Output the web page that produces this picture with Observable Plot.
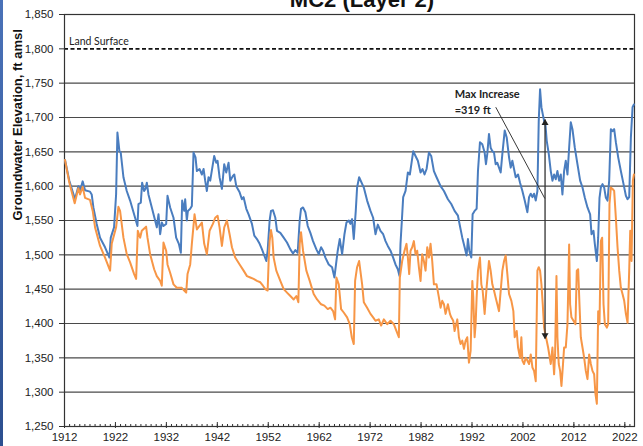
<!DOCTYPE html>
<html><head><meta charset="utf-8">
<script src="https://cdn.jsdelivr.net/npm/d3@7"></script>
<script src="https://cdn.jsdelivr.net/npm/@observablehq/plot@0.6"></script>
<style>
html,body{margin:0;padding:0;background:#fff;}
#wrap{position:relative;width:643px;height:446px;overflow:hidden;background:#fff;}
#chart{position:absolute;left:0;top:0;}
#title{position:absolute;left:0;width:724px;top:-13px;text-align:center;font:bold 22px "Liberation Sans",Arial,sans-serif;color:#111;white-space:nowrap;}
#edge{position:absolute;left:0;top:0;width:3px;height:446px;background:linear-gradient(#4a72b8,#2c4f8f);}
</style></head><body>
<div id="wrap"><div id="chart"></div><div id="title">MC2 (Layer 2)</div><div id="edge"></div></div>
<script>
// ---- tick labels ----
const yTicks = [1250,1300,1350,1400,1450,1500,1550,1600,1650,1700,1750,1800,1850];
const xTicks = [1912,1922,1932,1942,1952,1962,1972,1982,1992,2002,2012,2022];
const xMinor = d3.range(1912, 2024);
const landSurface = 1800;

// ---- blue series ----
const blueYear = [1912.10,1912.95,1914.06,1914.72,1915.05,1915.57,1916.03,1917.01,1917.34,1917.67,1918.32,1918.98,1919.96,1920.82,1921.08,1921.73,1922.13,1922.39,1922.78,1923.04,1923.57,1924.22,1924.88,1925.86,1926.32,1926.52,1926.98,1927.24,1927.63,1927.89,1928.16,1928.48,1929.14,1929.79,1930.12,1930.45,1930.78,1931.10,1931.43,1931.96,1932.22,1932.74,1933.40,1933.92,1934.45,1934.84,1935.10,1935.50,1935.69,1936.02,1936.22,1936.68,1937.00,1937.33,1937.72,1937.99,1938.51,1938.97,1939.30,1939.62,1939.95,1940.28,1940.61,
1941.39,1941.79,1942.05,1942.44,1942.90,1943.36,1943.75,1944.21,1944.54,1945.06,1945.33,1945.72,1946.38,1946.83,1947.16,1947.69,1948.14,1948.80,1949.26,1949.78,1950.31,1950.77,1951.22,1951.62,1951.88,1952.27,1952.54,1952.93,1953.39,1953.72,1954.37,1955.03,1955.68,1956.34,1956.86,1957.32,1957.78,1958.17,1958.43,1958.83,1959.29,1959.75,1960.27,1960.79,1961.45,1961.91,1962.37,1962.76,1963.22,1963.87,1964.53,1964.99,1965.38,1965.64,1966.04,1966.50,1966.96,1967.35,1967.81,1968.13,1968.46,1968.79,1969.18,1969.44,1969.84,
1970.76,1971.41,1972.07,1972.59,1973.05,1973.51,1974.03,1974.56,1975.02,1975.47,1976.00,1976.52,1976.98,1977.44,1977.77,1977.96,1978.23,1978.49,1978.95,1979.41,1979.80,1980.13,1980.46,1980.91,1981.37,1981.90,1982.29,1982.68,1983.08,1983.54,1983.99,1984.52,1985.04,1985.83,1986.49,1987.27,1987.93,1988.58,1989.24,1989.63,1990.09,1990.55,1990.94,1991.20,1991.47,1991.86,1992.12,1992.51,1992.91,1993.17,1993.56,1994.02,1994.48,1994.74,1995.00,1995.33,1995.66,1995.99,1996.32,1996.64,1996.97,1997.30,1997.63,
1997.96,1998.42,1998.81,1999.27,1999.60,1999.92,2000.25,2000.58,2001.04,2001.43,2001.89,2002.35,2002.87,2003.20,2003.53,2003.86,2004.18,2004.51,2004.84,2005.10,2005.36,2005.63,2005.89,2006.15,2006.41,2006.67,2007.07,2007.46,2007.79,2008.12,2008.44,2008.77,2009.10,2009.43,2009.75,2010.08,2010.41,2010.74,2011.07,2011.39,2011.72,2012.18,2012.70,2013.23,2013.69,2014.15,2014.67,2015.19,2015.46,2015.85,2016.11,2016.51,2016.77,2017.03,2017.29,2017.62,2017.95,2018.28,2018.60,2018.93,2019.26,2019.59,2019.91,2020.24,2020.70,2021.22,2021.75,2022.21,2022.54,2022.86,2023.19,2023.52,2023.78];
const blueElev = [1638,1608,1581,1600,1593,1607,1594,1592,1588,1569,1545,1525,1511,1496,1525,1540,1588,1678,1651,1649,1613,1593,1579,1554,1542,1574,1576,1605,1593,1596,1605,1588,1569,1550,1540,1559,1530,1547,1542,1545,1586,1569,1554,1525,1516,1503,1579,1564,1581,1550,1564,1567,1571,1649,1642,1622,1625,1617,1625,1608,1593,1613,1608,
1644,1634,1637,1613,1596,1632,1620,1634,1608,1615,1617,1600,1591,1581,1584,1567,1559,1545,1528,1523,1516,1508,1499,1491,1506,1550,1564,1565,1554,1535,1532,1525,1518,1508,1502,1507,1503,1550,1567,1569,1562,1542,1532,1520,1508,1501,1511,1506,1496,1486,1482,1467,1491,1506,1523,1501,1530,1547,1550,1545,1552,1523,1564,1598,1613,
1598,1579,1564,1554,1530,1544,1535,1530,1520,1513,1506,1496,1486,1479,1469,1516,1550,1584,1593,1620,1617,1634,1651,1644,1637,1620,1625,1617,1625,1649,1644,1622,1613,1600,1593,1581,1574,1564,1557,1542,1525,1511,1499,1523,1506,1496,1559,1564,1567,1622,1664,1661,1649,1632,1647,1676,1656,1651,1649,1632,1634,1627,1620,
1647,1681,1671,1642,1627,1637,1625,1613,1617,1605,1593,1579,1562,1584,1589,1584,1589,1579,1593,1695,1741,1715,1705,1695,1690,1666,1647,1622,1608,1617,1610,1622,1608,1617,1588,1622,1637,1617,1656,1693,1683,1656,1632,1608,1598,1583,1569,1559,1530,1535,1516,1491,1525,1583,1598,1603,1598,1583,1579,1608,1683,1680,1683,1664,1642,1622,1603,1586,1581,1584,1671,1715,1719];

// ---- orange series ----
const orangeYear = [1912.10,1912.95,1914.00,1914.72,1915.05,1915.57,1916.03,1917.01,1917.54,1918.00,1918.98,1919.96,1920.95,1921.27,1922.13,1922.58,1922.91,1923.57,1924.22,1924.88,1925.67,1926.06,1926.39,1926.85,1927.17,1928.02,1928.29,1928.81,1929.60,1930.12,1930.78,1931.10,1931.43,1931.96,1932.22,1932.74,1933.40,1934.05,1935.04,1935.50,1935.89,1936.15,1936.68,1937.00,1937.53,1937.99,1938.97,1939.43,1939.95,1940.48,
1941.13,1941.59,1942.05,1942.44,1942.90,1943.36,1943.88,1944.41,1944.87,1945.52,1946.38,1947.16,1947.82,1948.47,1949.13,1949.78,1950.44,1950.96,1951.42,1951.88,1952.08,1952.27,1952.54,1952.80,1953.06,1953.58,1954.37,1955.03,1955.68,1956.34,1956.99,1957.52,1957.91,1958.17,1958.43,1958.83,1959.48,1960.14,1960.92,1961.58,1962.37,1963.02,1963.68,1964.20,1964.73,1965.12,1965.38,1965.84,1966.30,1966.82,1967.48,1968.00,1968.40,1968.79,1969.05,1969.44,1969.84,
1970.43,1970.76,1971.41,1972.07,1972.59,1973.05,1973.70,1974.16,1974.69,1975.34,1976.00,1976.65,1977.18,1977.64,1977.83,1978.29,1978.75,1979.14,1979.41,1979.67,1979.93,1980.26,1980.59,1980.91,1981.24,1981.57,1981.90,1982.22,1982.55,1982.88,1983.21,1983.54,1983.86,1984.19,1984.52,1985.04,1985.50,1985.83,1986.16,1986.49,1986.81,1987.27,1987.67,1987.93,1988.32,1988.58,1989.11,1989.43,1989.76,1990.09,1990.42,1990.74,1991.07,1991.40,1991.73,1992.06,1992.25,1992.51,1992.71,1992.91,1993.17,1993.56,1993.83,1994.09,1994.48,1994.87,1995.33,1995.66,1995.99,1996.32,1996.64,1996.97,1997.30,
1997.96,1998.29,1998.61,1998.94,1999.27,1999.73,2000.12,2000.38,2000.78,2001.04,2001.43,2001.69,2001.89,2002.22,2002.55,2002.87,2003.20,2003.53,2003.86,2004.18,2004.51,2004.84,2005.10,2005.36,2005.63,2005.89,2006.15,2006.41,2006.67,2006.94,2007.46,2007.79,2008.12,2008.31,2008.58,2008.77,2009.03,2009.30,2009.56,2009.82,2010.08,2010.41,2010.74,2011.07,2011.26,2011.52,2011.92,2012.31,2012.57,2012.84,2013.10,2013.36,2013.69,2014.02,2014.34,2014.67,2015.00,2015.33,2015.65,2015.98,2016.24,2016.51,2016.77,2017.03,2017.29,2017.55,2017.82,2018.08,2018.47,2018.73,2018.99,2019.26,2019.59,2019.91,2020.24,2020.57,2020.90,2021.22,2021.55,2021.88,2022.21,2022.54,2022.86,2023.06,2023.32,2023.58,2023.78];
const orangeElev = [1638,1605,1575,1597,1588,1599,1583,1580,1564,1540,1513,1496,1477,1516,1540,1570,1564,1525,1501,1489,1472,1465,1535,1525,1535,1541,1525,1501,1479,1469,1462,1455,1518,1506,1486,1474,1457,1452,1452,1448,1445,1472,1486,1516,1559,1537,1547,1516,1501,1535,
1545,1554,1557,1540,1513,1540,1550,1530,1511,1496,1486,1477,1469,1467,1465,1462,1460,1455,1450,1448,1491,1520,1536,1525,1496,1477,1462,1450,1445,1440,1435,1440,1431,1516,1533,1506,1477,1462,1443,1435,1428,1426,1421,1423,1418,1406,1467,1457,1421,1416,1409,1399,1380,1370,1462,1482,1491,
1457,1431,1423,1414,1409,1404,1406,1397,1406,1399,1404,1399,1389,1380,1467,1491,1506,1516,1496,1472,1506,1511,1520,1501,1506,1482,1462,1501,1491,1477,1511,1496,1516,1491,1457,1457,1438,1423,1433,1428,1414,1428,1414,1409,1404,1389,1406,1380,1370,1375,1363,1375,1380,1343,1360,1462,1438,1380,1399,1438,1477,1496,1457,1448,1414,1453,1491,1477,1457,1448,1438,1428,1418,
1477,1491,1499,1472,1443,1433,1418,1380,1389,1365,1350,1380,1346,1341,1350,1346,1341,1355,1336,1331,1316,1477,1482,1477,1457,1428,1394,1384,1375,1365,1341,1365,1326,1355,1469,1380,1341,1331,1309,1336,1365,1365,1399,1515,1428,1409,1404,1399,1477,1479,1428,1380,1365,1350,1331,1319,1355,1341,1331,1326,1297,1283,1418,1399,1520,1525,1428,1399,1394,1399,1574,1598,1596,1593,1554,1511,1477,1452,1443,1433,1414,1401,1477,1535,1491,1608,1617];

// ---- annotation ----
const annotationText = ["Max Increase\n=319 ft"];
const annotationAt = [1988.6, 1745];
const arrowYear = 2006.34;
const arrowTop = 1697;
const arrowBottom = 1378;
const leaderFrom = [1996.66, 1715];
const leaderTo = [2006.3, 1582];
const landLabel = ["Land Surface"];
const landLabelAt = [1912.9, 1806];

const blue = blueYear.map((x, i) => ({year: x, elev: blueElev[i]}));
const orange = orangeYear.map((x, i) => ({year: x, elev: orangeElev[i]}));
const grid = yTicks.filter(t => t !== 1250 && t !== 1800 && t !== 1850);

const calibri = "Lato, 'Open Sans', sans-serif";

const svg = Plot.plot({
  width: 643,
  height: 446,
  marginLeft: 64,
  marginRight: 9,
  marginTop: 14,
  marginBottom: 20,
  style: {fontFamily: "'Liberation Sans', Arial, sans-serif", fontSize: "11.5px", color: "#222", background: "transparent"},
  x: {domain: [1912, 2023.9]},
  y: {domain: [1250, 1850]},
  marks: [
    Plot.ruleY(grid, {stroke: "#4a4a4a", strokeWidth: 1.1}),
    Plot.ruleY([landSurface], {stroke: "#111", strokeWidth: 1.6, strokeDasharray: "4,2.5"}),
    Plot.frame({stroke: "#333", strokeWidth: 1.2}),
    Plot.axisY(yTicks, {tickSize: 5, tickPadding: 6, tickFormat: d3.format(","), label: null, stroke: "#333"}),
    Plot.axisX(xMinor, {tickSize: 2, dy: -2, tickFormat: () => "", label: null, stroke: "#333"}),
    Plot.axisX(xTicks, {tickSize: 6, dy: -4, tickFormat: () => "", label: null, stroke: "#333"}),
    Plot.axisX(xTicks, {tickSize: 0, tickPadding: 6, tickFormat: d => String(d), label: null}),
    Plot.text(["Groundwater Elevation, ft amsl"], {frameAnchor: "left", dx: -47, rotate: -90, fontWeight: "bold", fontSize: 13, fill: "#111"}),
    Plot.text(landLabel, {x: landLabelAt[0], y: landLabelAt[1], textAnchor: "start", lineAnchor: "bottom", fontSize: 10.5, fontFamily: calibri, fill: "#222"}),
    Plot.line(blue, {x: "year", y: "elev", stroke: "#4A7DBF", strokeWidth: 2}),
    Plot.line(orange, {x: "year", y: "elev", stroke: "#F79646", strokeWidth: 2}),
    Plot.link([0], {x1: leaderFrom[0], y1: leaderFrom[1], x2: leaderTo[0], y2: leaderTo[1], stroke: "#222", strokeWidth: 0.9}),
    Plot.link([0], {x1: arrowYear, y1: arrowTop, x2: arrowYear, y2: arrowBottom, stroke: "#333", strokeWidth: 1.3}),
    Plot.dot([{y: arrowTop - 5, r: 0}, {y: arrowBottom + 5, r: 180}], {x: arrowYear, y: "y", rotate: "r", symbol: "triangle", r: 2.6, fill: "#222", stroke: null}),
    Plot.text(annotationText, {x: annotationAt[0], y: annotationAt[1], textAnchor: "start", lineAnchor: "top", lineHeight: 1.45, fontWeight: "bold", fontSize: 11, fontFamily: calibri, fill: "#222"})
  ]
});
document.getElementById("chart").appendChild(svg);
</script>
</body></html>
